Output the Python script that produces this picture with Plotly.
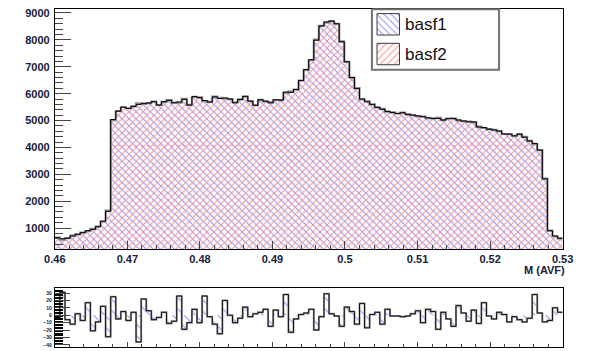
import numpy as np
import plotly.graph_objects as go

# ---------------- data ----------------
x_min, x_max, n_bins = 0.46, 0.53, 100

basf1 = [640, 600, 620, 706, 768, 829, 902, 951, 1049, 1257,
         1625, 5040, 5350, 5500, 5450, 5530, 5600, 5640, 5650, 5700,
         5575, 5700, 5750, 5660, 5690, 5790, 5575, 5890, 5850, 5745,
         5690, 5880, 5820, 5840, 5800, 5660, 5780, 5900, 5720, 5570,
         5770, 5720, 5660, 5770, 5760, 6060, 6050, 6150, 6490, 6890,
         7260, 7990, 8520, 8670, 8700, 8600, 7930, 7190, 6600, 6190,
         5800, 5700, 5600, 5490, 5420, 5340, 5300, 5260, 5290, 5230,
         5200, 5170, 5140, 5100, 5080, 5080, 5020, 5070, 5070, 5020,
         4980, 4950, 4945, 4760, 4740, 4680, 4650, 4610, 4500, 4490,
         4430, 4490, 4380, 4240, 4150, 3900, 2830, 900, 705, 620]

basf2 = [643, 569, 626, 718, 766, 836, 885, 972, 1058, 1245,
         1654, 5015, 5355, 5495, 5457, 5526, 5636, 5618, 5644, 5706,
         5578, 5696, 5761, 5668, 5664, 5809, 5585, 5882, 5860, 5719,
         5692, 5892, 5845, 5820, 5800, 5670, 5784, 5889, 5722, 5568,
         5766, 5712, 5675, 5763, 5762, 6032, 6073, 6155, 6489, 6887,
         7252, 8010, 8522, 8641, 8698, 8601, 7945, 7179, 6595, 6202,
         5784, 5717, 5599, 5486, 5432, 5332, 5301, 5261, 5292, 5231,
         5198, 5164, 5150, 5092, 5075, 5099, 5016, 5075, 5085, 5007,
         4977, 4958, 4938, 4771, 4723, 4681, 4655, 4606, 4499, 4499,
         4432, 4496, 4389, 4244, 4122, 3897, 2839, 907, 695, 616]

residual = [-3, 31, -6, -12, 2, -7, 17, -21, -9, 12,
            -29, 25, -5, 5, -7, 4, -36, 22, 6, -6,
            -3, 4, -11, -8, 26, -19, -10, 8, -10, 26,
            -2, -12, -25, 20, 0, -10, -4, 11, -2, 2,
            4, 8, -15, 7, -2, 28, -23, -5, 1, 3,
            8, -20, -2, 29, 2, -1, -15, 11, 5, -12,
            16, -17, 1, 4, -12, 8, -1, -1, -2, -1,
            2, 6, -10, 8, 5, -19, 4, -5, -15, 13,
            3, -8, 7, -11, 17, -1, -5, 4, 1, -9,
            -2, -6, -9, -4, 28, 3, -9, -7, 10, 4]

x_tick_vals = [0.46, 0.47, 0.48, 0.49, 0.50, 0.51, 0.52, 0.53]
x_tick_text = ["0.46", "0.47", "0.48", "0.49", "0.5", "0.51", "0.52", "0.53"]
series_names = ["basf1", "basf2"]
x_title = "M (AVF)"

# ---------------- layout helpers ----------------
W, H = 598, 351
def fx(p):
    return p / W
def fy(p):
    return 1 - p / H

BLUE = "rgb(140,140,255)"
RED = "rgb(255,140,140)"
LABEL = "#18203a"
TICK = "#444444"
HATCH_SIZE = 5
HATCH_SOLID = 0.2

edges = np.linspace(x_min, x_max, n_bins + 1)
step_x = list(edges)

def step(vals):
    return list(vals) + [vals[-1]]

fig = go.Figure()

# main histograms (hatched)
fig.add_trace(go.Scatter(
    x=step_x, y=step(basf1), mode="lines", line=dict(shape="hv", width=0),
    fill="tozeroy", fillcolor="rgba(0,0,0,0)",
    fillpattern=dict(shape="\\", fgcolor=BLUE, bgcolor="rgba(0,0,0,0)",
                     size=HATCH_SIZE, solidity=HATCH_SOLID, fillmode="replace"),
    xaxis="x", yaxis="y", showlegend=False, hoverinfo="skip"))
fig.add_trace(go.Scatter(
    x=step_x, y=step(basf2), mode="lines", line=dict(shape="hv", width=0),
    fill="tozeroy", fillcolor="rgba(0,0,0,0)",
    fillpattern=dict(shape="/", fgcolor=RED, bgcolor="rgba(0,0,0,0)",
                     size=HATCH_SIZE, solidity=HATCH_SOLID, fillmode="replace"),
    xaxis="x", yaxis="y", showlegend=False, hoverinfo="skip"))
# outlines
fig.add_trace(go.Scatter(
    x=step_x, y=step(basf2), mode="lines",
    line=dict(shape="hv", color="#8c8c8c", width=2.2),
    xaxis="x", yaxis="y", showlegend=False, hoverinfo="skip"))
fig.add_trace(go.Scatter(
    x=step_x, y=step(basf1), mode="lines",
    line=dict(shape="hv", color="black", width=1),
    xaxis="x", yaxis="y", showlegend=False, hoverinfo="skip"))

# residual pad
fig.add_trace(go.Scatter(
    x=step_x, y=step(residual), mode="lines", line=dict(shape="hv", width=0),
    fill="tozeroy", fillcolor="rgba(0,0,0,0)",
    fillpattern=dict(shape="\\", fgcolor=BLUE, bgcolor="rgba(0,0,0,0)",
                     size=8, solidity=0.14, fillmode="replace"),
    xaxis="x2", yaxis="y2", showlegend=False, hoverinfo="skip"))
fig.add_trace(go.Scatter(
    x=step_x, y=step(residual), mode="lines",
    line=dict(shape="hv", color="#9a9a9a", width=2),
    xaxis="x2", yaxis="y2", showlegend=False, hoverinfo="skip"))
fig.add_trace(go.Scatter(
    x=step_x, y=step(residual), mode="lines",
    line=dict(shape="hv", color="black", width=0.9),
    xaxis="x2", yaxis="y2", showlegend=False, hoverinfo="skip"))

# ---------------- legend (overlay pixel axes) ----------------
lx0, lx1, ly0, ly1 = 374.7, 506.7, 7.3, 68.3
fig.add_trace(go.Scatter(
    x=[lx0, lx1, lx1, lx0, lx0], y=[ly0, ly0, ly1, ly1, ly0],
    mode="lines", fill="toself", fillcolor="white",
    line=dict(color="#727272", width=2),
    xaxis="x3", yaxis="y3", showlegend=False, hoverinfo="skip"))
box_specs = [("\\", BLUE, 11.7, 33.3), ("/", RED, 41.7, 63.3)]
for shp, col, by0, by1 in box_specs:
    bx0, bx1 = 380.0, 403.3
    fig.add_trace(go.Scatter(
        x=[bx0, bx1, bx1, bx0, bx0], y=[by0, by0, by1, by1, by0],
        mode="lines", fill="toself", fillcolor="rgba(0,0,0,0)",
        fillpattern=dict(shape=shp, fgcolor=col, bgcolor="rgba(0,0,0,0)",
                         size=HATCH_SIZE, solidity=HATCH_SOLID, fillmode="replace"),
        line=dict(color="#3a3a3a", width=1),
        xaxis="x3", yaxis="y3", showlegend=False, hoverinfo="skip"))

annotations = []
for name, cy in zip(series_names, [22.5, 52.5]):
    annotations.append(dict(
        text=name, x=fx(406.5), y=fy(cy), xref="paper", yref="paper",
        xanchor="left", yanchor="middle", showarrow=False,
        font=dict(family="Liberation Sans, Arial", size=17, color="#111111")))
annotations.append(dict(
    text="<b>" + x_title + "</b>", x=fx(577), y=fy(270), xref="paper", yref="paper",
    xanchor="right", yanchor="middle", showarrow=False,
    font=dict(family="Liberation Sans, Arial", size=11, color=LABEL)))

# faint pink hatch-tile artefact line seen across the filled area
shapes = [dict(type="line", xref="x", yref="y", x0=edges[11], x1=edges[95],
               y0=4060, y1=4060, line=dict(color="rgba(255,110,140,0.6)", width=1, dash="dot"),
               layer="above")]

tickfont_main = dict(family="Liberation Sans, Arial", size=11, color=LABEL, weight="bold")
tickfont_small = dict(family="Liberation Sans, Arial", size=5, color=LABEL, weight="bold")

main_xdom = [fx(45.5), fx(572.7)]

fig.update_layout(
    width=W, height=H, margin=dict(l=0, r=0, t=0, b=0),
    paper_bgcolor="white", plot_bgcolor="rgba(0,0,0,0)",
    showlegend=False, annotations=annotations, shapes=shapes,
    xaxis=dict(domain=main_xdom, anchor="y", range=[x_min, x_max],
               tickmode="array", tickvals=x_tick_vals, ticktext=x_tick_text,
               ticks="inside", ticklen=8, tickwidth=1, tickcolor=TICK,
               minor=dict(ticks="inside", ticklen=4, dtick=0.002, tick0=0.46,
                          tickcolor=TICK, tickwidth=1, showgrid=False),
               showline=True, linecolor="black", linewidth=1, mirror=True,
               showgrid=False, zeroline=False, tickfont=tickfont_main,
               ticklabelstandoff=0),
    yaxis=dict(domain=[fy(249.3), fy(7.3)], anchor="x", range=[215, 9140],
               tick0=0, dtick=1000, ticks="inside", ticklen=16, tickwidth=1,
               tickcolor=TICK,
               minor=dict(ticks="inside", ticklen=8, dtick=200, tick0=0,
                          tickcolor=TICK, tickwidth=1, showgrid=False),
               showline=True, linecolor="black", linewidth=1, mirror=True,
               showgrid=False, zeroline=False, tickfont=tickfont_main,
               ticklabelstandoff=2),
    xaxis2=dict(domain=main_xdom, anchor="y2", range=[x_min, x_max],
                tickmode="array", tickvals=x_tick_vals, showticklabels=False,
                ticks="inside", ticklen=5, tickwidth=1, tickcolor=TICK,
                minor=dict(ticks="inside", ticklen=2.5, dtick=0.002, tick0=0.46,
                           tickcolor=TICK, tickwidth=1, showgrid=False),
                showline=True, linecolor="black", linewidth=1, mirror=True,
                showgrid=False, zeroline=False),
    yaxis2=dict(domain=[fy(347.7), fy(288.3)], anchor="x2", range=[-42.5, 37],
                tick0=0, dtick=10, ticks="inside", ticklen=15, tickwidth=1,
                tickcolor=TICK,
                minor=dict(ticks="inside", ticklen=8, dtick=2, tick0=0,
                           tickcolor="black", tickwidth=1, showgrid=False),
                showline=True, linecolor="black", linewidth=1, mirror=True,
                showgrid=False, zeroline=False, tickfont=tickfont_small,
                ticklabelstandoff=1),
    xaxis3=dict(domain=[0, 1], anchor="y3", range=[0, W], visible=False,
                fixedrange=True),
    yaxis3=dict(domain=[0, 1], anchor="x3", range=[H, 0], visible=False,
                fixedrange=True),
)

fig.write_html("out.html")
